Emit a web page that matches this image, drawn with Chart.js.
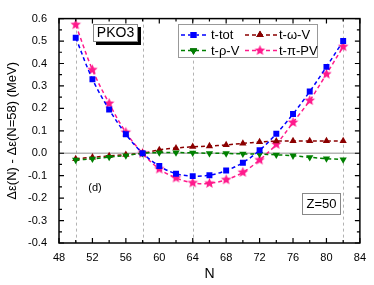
<!DOCTYPE html>
<html>
<head>
<meta charset="utf-8">
<script src="https://cdn.jsdelivr.net/npm/chart.js@4.4.0/dist/chart.umd.min.js"></script>
<style>
html, body { margin: 0; padding: 0; background: #fff; }
</style>
</head>
<body>
<canvas id="chart" width="374" height="285"></canvas>
<script>
// neutron numbers and the four curves (MeV)
var neutrons = [50, 52, 54, 56, 58, 60, 62, 64, 66, 68, 70, 72, 74, 76, 78, 80, 82];
var tTot    = [0.515, 0.330, 0.195, 0.085, 0.000, -0.057, -0.091, -0.102, -0.098, -0.077, -0.042, 0.013, 0.087, 0.175, 0.275, 0.385, 0.500];
var tOmegaV = [-0.025, -0.018, -0.012, -0.006, 0.000, 0.015, 0.023, 0.029, 0.032, 0.037, 0.044, 0.050, 0.054, 0.055, 0.055, 0.055, 0.055];
var tRhoV   = [-0.030, -0.025, -0.017, -0.010, 0.000, 0.003, 0.003, 0.002, 0.000, -0.001, -0.003, -0.004, -0.007, -0.011, -0.018, -0.024, -0.028];
var tPiPV   = [0.573, 0.372, 0.222, 0.093, 0.000, -0.070, -0.110, -0.132, -0.134, -0.118, -0.085, -0.030, 0.040, 0.137, 0.235, 0.353, 0.475];

var xTickLabels = [48, 52, 56, 60, 64, 68, 72, 76, 80, 84];
var yTickLabels = [-0.4, -0.3, -0.2, -0.1, 0.0, 0.1, 0.2, 0.3, 0.4, 0.5, 0.6];
var markerN = [50, 58, 64, 82];

var FONT = "'Liberation Sans', Arial, sans-serif";

function points(values) {
  return neutrons.map(function (n, i) { return { x: n, y: values[i] }; });
}

function makeStar(color, r) {
  var c = document.createElement('canvas');
  var s = Math.ceil(r * 2 + 2);
  c.width = s; c.height = s;
  var g = c.getContext('2d');
  g.fillStyle = color;
  g.beginPath();
  for (var i = 0; i < 10; i++) {
    var rad = i % 2 === 0 ? r : r * 0.45;
    var a = -Math.PI / 2 + i * Math.PI / 5;
    var px = s / 2 + rad * Math.cos(a), py = s / 2 + rad * Math.sin(a);
    if (i === 0) g.moveTo(px, py); else g.lineTo(px, py);
  }
  g.closePath();
  g.fill();
  return c;
}

var blue = '#0000ff', maroon = '#8b0000', green = '#008000', pink = '#ff1a8c';
var star = makeStar(pink, 5.5);

function series(label, values, color, style, radius, rotation) {
  return {
    label: label,
    data: points(values),
    borderColor: color,
    backgroundColor: color,
    borderWidth: 1.5,
    borderDash: [4, 3],
    pointStyle: style,
    pointRadius: radius,
    pointRotation: rotation || 0,
    pointBorderWidth: 0,
    pointBackgroundColor: color,
    tension: 0.35,
    showLine: true
  };
}

var decorPlugin = {
  id: 'decor',
  beforeDatasetsDraw: function (chart) {
    var c = chart.ctx, a = chart.chartArea, xs = chart.scales.x, ys = chart.scales.y;
    c.save();
    // zero line
    c.strokeStyle = '#b4b4b4';
    c.lineWidth = 1.5;
    c.beginPath();
    c.moveTo(a.left, ys.getPixelForValue(0));
    c.lineTo(a.right, ys.getPixelForValue(0));
    c.stroke();
    // magic number guides
    c.strokeStyle = '#a0a0a0';
    c.lineWidth = 0.8;
    c.setLineDash([3, 3]);
    markerN.forEach(function (n) {
      var px = Math.round(xs.getPixelForValue(n)) + 0.5;
      c.beginPath();
      c.moveTo(px, a.top);
      c.lineTo(px, a.bottom);
      c.stroke();
    });
    c.restore();
  },
  afterDatasetsDraw: function (chart) {
    var c = chart.ctx, a = chart.chartArea, xs = chart.scales.x, ys = chart.scales.y;
    c.save();
    // frame
    c.strokeStyle = '#000';
    c.lineWidth = 1.5;
    c.strokeRect(a.left, a.top, a.right - a.left, a.bottom - a.top);
    // inward ticks
    c.lineWidth = 1.2;
    c.beginPath();
    for (var n = 48; n <= 84; n += 2) {
      var len = n % 4 === 0 ? 5 : 3;
      var px = xs.getPixelForValue(n);
      c.moveTo(px, a.bottom); c.lineTo(px, a.bottom - len);
      c.moveTo(px, a.top); c.lineTo(px, a.top + len);
    }
    for (var k = -8; k <= 12; k++) {
      var v = k * 0.05;
      var l2 = k % 2 === 0 ? 5 : 3;
      var py = ys.getPixelForValue(v);
      c.moveTo(a.left, py); c.lineTo(a.left + l2, py);
      c.moveTo(a.right, py); c.lineTo(a.right - l2, py);
    }
    c.stroke();

    // PKO3 label with shadow
    c.fillStyle = '#000';
    c.fillRect(96, 27, 45, 18);
    c.fillStyle = '#fff';
    c.fillRect(93, 24, 45, 18);
    c.strokeStyle = '#888';
    c.lineWidth = 1;
    c.strokeRect(93.5, 24.5, 44, 17);
    c.fillStyle = '#000';
    c.font = '14px ' + FONT;
    c.textAlign = 'center';
    c.textBaseline = 'middle';
    c.fillText('PKO3', 115.5, 33.5);

    // Z=50 label
    c.fillStyle = '#fff';
    c.fillRect(302, 193, 39, 22);
    c.strokeStyle = '#888';
    c.strokeRect(302.5, 193.5, 38, 21);
    c.fillStyle = '#000';
    c.font = '13px ' + FONT;
    c.fillText('Z=50', 321.5, 204.5);

    // panel tag
    c.font = '11px ' + FONT;
    c.fillText('(d)', 95, 188);

    // legend
    c.fillStyle = '#fff';
    c.fillRect(178, 24, 140, 34);
    c.strokeStyle = '#999';
    c.strokeRect(178.5, 24.5, 139, 33);
    var rows = [
      { ds: 0, x0: 181, x1: 206, mx: 193.5, tx: 211, y: 35 },
      { ds: 2, x0: 245, x1: 277, mx: 260, tx: 279, y: 35 },
      { ds: 1, x0: 181, x1: 206, mx: 193.5, tx: 211, y: 50.5 },
      { ds: 3, x0: 245, x1: 277, mx: 260, tx: 279, y: 50.5 }
    ];
    rows.forEach(function (r) {
      var d = chart.data.datasets[r.ds];
      c.strokeStyle = d.borderColor;
      c.lineWidth = 1.5;
      c.setLineDash([4, 3]);
      c.beginPath();
      c.moveTo(r.x0, r.y); c.lineTo(r.x1, r.y);
      c.stroke();
      c.setLineDash([]);
      Chart.helpers.drawPoint(c, {
        pointStyle: d.pointStyle,
        radius: d.pointRadius,
        rotation: d.pointRotation,
        borderWidth: 0
      }, r.mx, r.y);
      c.fillStyle = d.borderColor;
      if (typeof d.pointStyle === 'string') {
        c.beginPath();
        Chart.helpers.drawPoint(c, { pointStyle: d.pointStyle, radius: d.pointRadius, rotation: d.pointRotation, borderWidth: 0 }, r.mx, r.y);
        c.fill();
      }
      c.fillStyle = '#000';
      c.font = '13px ' + FONT;
      c.textAlign = 'left';
      c.textBaseline = 'middle';
      c.fillText(d.label, r.tx, r.y + 0.5);
    });
    c.restore();
  }
};

var ctx = document.getElementById('chart').getContext('2d');
var chart = new Chart(ctx, {
  type: 'line',
  data: {
    datasets: [
      series('t-tot', tTot, blue, 'rect', 4.2),
      series('t-\u03c1-V', tRhoV, green, 'triangle', 4.2, 180),
      series('t-\u03c9-V', tOmegaV, maroon, 'triangle', 4.2),
      series('t-\u03c0-PV', tPiPV, pink, star, 5.5)
    ]
  },
  options: {
    responsive: false,
    animation: false,
    layout: { padding: { top: 9, right: 9, left: 0, bottom: 0 } },
    plugins: { legend: { display: false }, tooltip: { enabled: false } },
    scales: {
      x: {
        type: 'linear',
        min: 48,
        max: 84,
        afterFit: function (s) { s.height = 42; },
        afterBuildTicks: function (s) {
          s.ticks = xTickLabels.map(function (v) { return { value: v }; });
        },
        grid: { display: false, drawTicks: false },
        border: { display: false },
        ticks: {
          padding: 8,
          color: '#000',
          font: { family: FONT, size: 11 },
          maxRotation: 0,
          callback: function (v) { return String(v); }
        },
        title: {
          display: true,
          text: 'N',
          color: '#000',
          font: { family: FONT, size: 14 },
          padding: { top: 0, bottom: 2 }
        }
      },
      y: {
        min: -0.4,
        max: 0.6,
        afterFit: function (s) { s.width = 59; },
        afterBuildTicks: function (s) {
          s.ticks = yTickLabels.map(function (v) { return { value: v }; });
        },
        grid: { display: false, drawTicks: false },
        border: { display: false },
        ticks: {
          padding: 12,
          color: '#000',
          font: { family: FONT, size: 11 },
          callback: function (v) { return v.toFixed(1); }
        },
        title: {
          display: true,
          text: '\u0394\u03b5(N) - \u0394\u03b5(N=58) (MeV)',
          color: '#000',
          font: { family: FONT, size: 13 },
          padding: { top: 5, bottom: 0 }
        }
      }
    }
  },
  plugins: [decorPlugin]
});
</script>
</body>
</html>
